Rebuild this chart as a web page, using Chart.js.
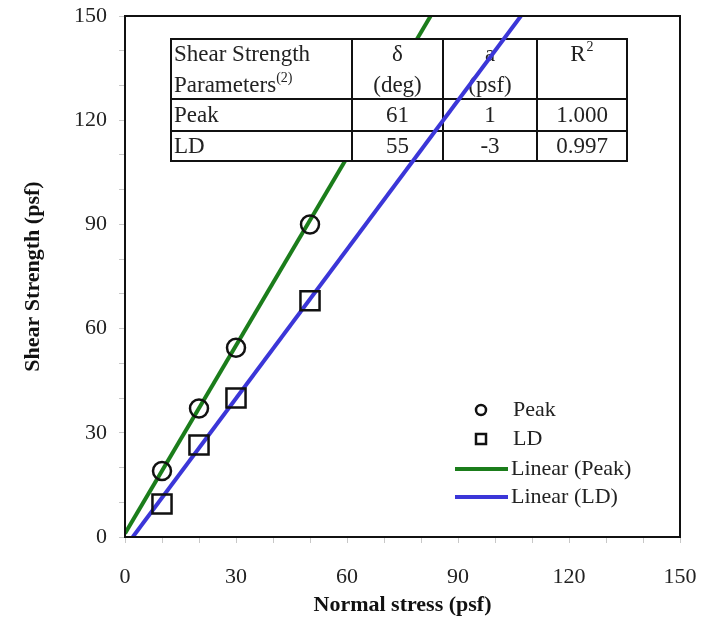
<!DOCTYPE html>
<html>
<head>
<meta charset="utf-8">
<script src="https://cdn.jsdelivr.net/npm/chart.js@4/dist/chart.umd.min.js"></script>
<style>
  body { margin: 0; background: #fff; }
  #wrap { width: 706px; height: 626px; }
</style>
</head>
<body>
<div id="wrap"><canvas id="chart" width="706" height="626"></canvas></div>
<script>
// data
const normalStress = [10, 20, 30, 50];
const peakStrength = [19, 37, 54.5, 90];
const ldStrength = [9.5, 26.5, 40, 68];

// fitted lines (end points)
const peakLineX = [0, 82.6];
const peakLineY = [1, 150];
const ldLineX = [2.1, 107];
const ldLineY = [0, 150];

const tickValues = [0, 10, 20, 30, 40, 50, 60, 70, 80, 90, 100, 110, 120, 130, 140, 150];
const tickLabels = [0, 30, 60, 90, 120, 150];

const tableRows = [
  ["Peak", "61", "1", "1.000"],
  ["LD", "55", "-3", "0.997"]
];

const GREEN = "#1b7d1b";
const BLUE = "#3b36d8";
const SERIF = "'Liberation Serif', 'Times New Roman', serif";

const toPts = (xs, ys) => xs.map((x, i) => ({ x: x, y: ys[i] }));

function drawTable(ctx, ca) {
  const x0 = ca.left + 46;
  const y0 = ca.top + 23;
  const cols = [x0, x0 + 181, x0 + 272, x0 + 366, x0 + 456];
  const rows = [y0, y0 + 60, y0 + 92, y0 + 122];
  ctx.save();
  ctx.fillStyle = "#fff";
  ctx.fillRect(cols[0], rows[0], cols[4] - cols[0], rows[3] - rows[0]);
  ctx.strokeStyle = "#111";
  ctx.lineWidth = 2;
  ctx.strokeRect(cols[0], rows[0], cols[4] - cols[0], rows[3] - rows[0]);
  ctx.beginPath();
  for (let i = 1; i < 4; i++) { ctx.moveTo(cols[i], rows[0]); ctx.lineTo(cols[i], rows[3]); }
  for (let j = 1; j < 3; j++) { ctx.moveTo(cols[0], rows[j]); ctx.lineTo(cols[4], rows[j]); }
  ctx.stroke();

  const big = "23px " + SERIF, small = "14px " + SERIF;
  ctx.fillStyle = "#222";
  ctx.textBaseline = "middle";
  ctx.font = big;
  const l1 = rows[0] + 16, l2 = rows[0] + 47;
  ctx.textAlign = "left";
  ctx.fillText("Shear Strength", cols[0] + 3, l1);
  ctx.fillText("Parameters", cols[0] + 3, l2);
  const pw = ctx.measureText("Parameters").width;
  ctx.font = small;
  ctx.fillText("(2)", cols[0] + 3 + pw, l2 - 8);
  ctx.font = big;
  ctx.textAlign = "center";
  const c = i => (cols[i] + cols[i + 1]) / 2;
  ctx.fillText("\u03b4", c(1), l1);
  ctx.fillText("(deg)", c(1), l2);
  ctx.fillText("a", c(2), l1);
  ctx.fillText("(psf)", c(2), l2);
  ctx.fillText("R", c(3) - 4, l1);
  ctx.font = small;
  ctx.fillText("2", c(3) + 8, l1 - 8);
  ctx.font = big;
  tableRows.forEach((r, j) => {
    const y = (rows[j + 1] + rows[j + 2]) / 2 + 1;
    ctx.textAlign = "left";
    ctx.fillText(r[0], cols[0] + 3, y);
    ctx.textAlign = "center";
    for (let i = 1; i < 4; i++) ctx.fillText(r[i], c(i), y);
  });
  ctx.restore();
}

function drawLegend(ctx, ca) {
  const mx = ca.left + 356;
  const tx = ca.left + 386;
  const ys = [ca.top + 394, ca.top + 423, ca.top + 453, ca.top + 481];
  ctx.save();
  ctx.strokeStyle = "#111";
  ctx.lineWidth = 2.5;
  ctx.beginPath();
  ctx.arc(mx, ys[0], 5, 0, Math.PI * 2);
  ctx.stroke();
  ctx.strokeRect(mx - 5, ys[1] - 5, 10, 10);
  ctx.lineWidth = 4;
  ctx.strokeStyle = GREEN;
  ctx.beginPath(); ctx.moveTo(mx - 26, ys[2]); ctx.lineTo(mx + 27, ys[2]); ctx.stroke();
  ctx.strokeStyle = BLUE;
  ctx.beginPath(); ctx.moveTo(mx - 26, ys[3]); ctx.lineTo(mx + 27, ys[3]); ctx.stroke();
  ctx.fillStyle = "#222";
  ctx.font = "22px " + SERIF;
  ctx.textAlign = "left";
  ctx.textBaseline = "middle";
  ctx.fillText("Peak", tx + 2, ys[0]);
  ctx.fillText("LD", tx + 2, ys[1]);
  ctx.fillText("Linear (Peak)", tx, ys[2]);
  ctx.fillText("Linear (LD)", tx, ys[3]);
  ctx.restore();
}

const isPeakFit = (chart, i) => chart.data.datasets[i].label === "Linear (Peak)";

const decorations = {
  id: "decorations",
  // green fit first, then the table over it, then everything else
  beforeDatasetsDraw(chart) {
    const ctx = chart.ctx, ca = chart.chartArea;
    const gi = chart.data.datasets.findIndex((d, i) => isPeakFit(chart, i));
    ctx.save();
    ctx.beginPath();
    ctx.rect(ca.left, ca.top, ca.right - ca.left, ca.bottom - ca.top);
    ctx.clip();
    chart.getDatasetMeta(gi).controller.draw();
    ctx.restore();
    drawTable(ctx, ca);
  },
  beforeDatasetDraw(chart, args) {
    if (isPeakFit(chart, args.index)) return false;
  },
  afterDraw(chart) {
    const ctx = chart.ctx, ca = chart.chartArea;
    ctx.save();
    ctx.strokeStyle = "#111";
    ctx.lineWidth = 2;
    ctx.strokeRect(ca.left, ca.top, ca.right - ca.left, ca.bottom - ca.top);
    ctx.restore();
    drawLegend(ctx, ca);
  }
};

function axis(title, titlePad) {
  return {
    type: "linear",
    min: 0,
    max: 150,
    afterBuildTicks: s => { s.ticks = tickValues.map(v => ({ value: v })); },
    ticks: {
      autoSkip: false,
      maxRotation: 0,
      color: "#222",
      font: { family: SERIF, size: 22 },
      callback: v => tickLabels.includes(v) ? String(v) : ""
    },
    grid: { drawOnChartArea: false, drawTicks: true, tickLength: 6, tickColor: "#c8c8c8", tickWidth: 1 },
    border: { display: true, color: "#111", width: 2 },
    title: {
      display: true,
      text: title,
      color: "#111",
      font: { family: SERIF, size: 22, weight: "bold" },
      padding: titlePad
    }
  };
}

const xAxis = axis("Normal stress (psf)", { top: 0, bottom: 7 });
xAxis.ticks.padding = 21;
xAxis.afterFit = s => { s.height = 89; s.paddingLeft = 0; s.paddingRight = 0; };
const yAxis = axis("Shear Strength (psf)", { top: 20, bottom: 0 });
yAxis.ticks.padding = 12;
yAxis.afterFit = s => { s.width = 125; s.paddingTop = 0; s.paddingBottom = 0; };

new Chart(document.getElementById("chart").getContext("2d"), {
  type: "scatter",
  data: {
    datasets: [
      {
        label: "Peak",
        data: toPts(normalStress, peakStrength),
        pointStyle: "circle",
        pointRadius: 9,
        pointBorderWidth: 2.5,
        pointBorderColor: "#111",
        pointBackgroundColor: "transparent"
      },
      {
        label: "LD",
        data: toPts(normalStress, ldStrength),
        pointStyle: "rect",
        pointRadius: 13.5,
        pointBorderWidth: 2.5,
        pointBorderColor: "#111",
        pointBackgroundColor: "transparent"
      },
      {
        label: "Linear (LD)",
        data: toPts(ldLineX, ldLineY),
        showLine: true,
        borderColor: BLUE,
        borderWidth: 4,
        pointRadius: 0
      },
      {
        label: "Linear (Peak)",
        data: toPts(peakLineX, peakLineY),
        showLine: true,
        borderColor: GREEN,
        borderWidth: 4,
        pointRadius: 0
      }
    ]
  },
  options: {
    responsive: false,
    animation: false,
    layout: { padding: { left: 0, right: 26, top: 14, bottom: 0 } },
    plugins: { legend: { display: false }, tooltip: { enabled: false } },
    scales: { x: xAxis, y: yAxis }
  },
  plugins: [decorations]
});
</script>
</body>
</html>
